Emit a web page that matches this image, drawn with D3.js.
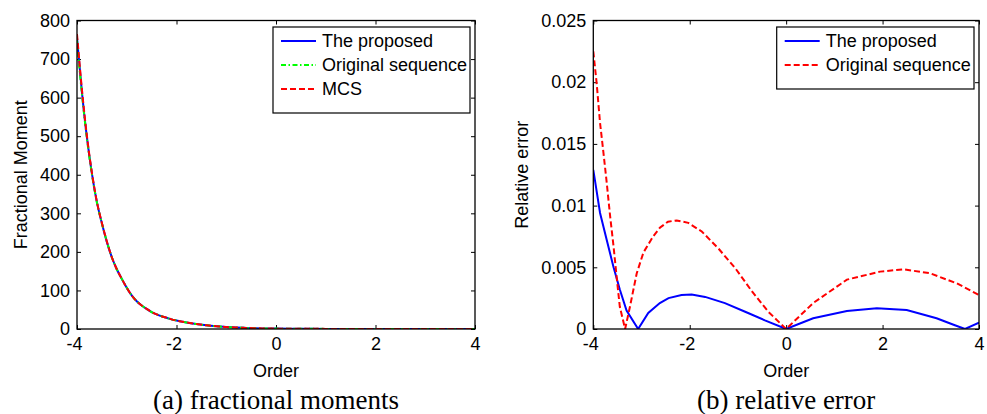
<!DOCTYPE html>
<html>
<head>
<meta charset="utf-8">
<script src="https://cdn.jsdelivr.net/npm/d3@7"></script>
<style>
  body { margin: 0; background: #fff; }
  svg { display: block; }
  .tick text { font-family: "Liberation Sans", Arial, sans-serif; font-size: 18px; fill: #000; }
  .axis-title { font-family: "Liberation Sans", Arial, sans-serif; font-size: 18px; fill: #000; }
  .caption { font-family: "Liberation Serif", "Times New Roman", serif; font-size: 27px; fill: #000; }
  .legend text { font-family: "Liberation Sans", Arial, sans-serif; font-size: 18px; fill: #000; }
</style>
</head>
<body>
<div id="chart"></div>
<script>
const width = 987, height = 414;

// (a) fractional moments
const momentOrder = [-4.0, -3.9, -3.8, -3.7, -3.6, -3.5, -3.4, -3.3, -3.2, -3.1, -3.0, -2.9, -2.8, -2.7, -2.6, -2.5,
  -2.4, -2.3, -2.2, -2.1, -2.0, -1.8, -1.6, -1.4, -1.2, -1.0, -0.8, -0.6, -0.4, -0.2, 0.0, 0.5, 1.0, 1.5, 2.0, 2.5, 3.0, 3.5, 4.0];
const momentMCS = [765, 620, 500, 405, 330, 275, 227, 186, 155, 130, 107, 87, 72, 61, 52, 44,
  38, 33, 29, 25, 22, 17, 13, 9.5, 7, 5.2, 3.8, 2.8, 2.0, 1.4, 1.0, 0.52, 0.30, 0.19, 0.13, 0.095, 0.07, 0.057, 0.047];
const momentProposed = [755, 613, 496, 403, 329, 274, 226, 186, 155, 130, 107, 87, 72, 61, 52, 44,
  38, 33, 29, 25, 22, 17, 13, 9.5, 7, 5.2, 3.8, 2.8, 2.0, 1.4, 1.0, 0.52, 0.30, 0.19, 0.13, 0.095, 0.07, 0.057, 0.047];
const momentOriginal = [748, 608, 493, 401, 328, 274, 227, 186, 155, 130, 107, 87, 72, 61, 52, 44,
  38, 33, 29, 25, 22, 17, 13, 9.5, 7, 5.2, 3.8, 2.8, 2.0, 1.4, 1.0, 0.52, 0.30, 0.19, 0.13, 0.095, 0.07, 0.057, 0.047];

// (b) relative error
const errProposedOrder = [-4.00, -3.86, -3.72, -3.58, -3.45, -3.31, -3.07, -2.86, -2.62, -2.44, -2.17, -1.96, -1.68,
  -1.27, -0.85, -0.44, 0.00, 0.56, 1.26, 1.88, 2.50, 3.12, 3.50, 3.71, 4.00];
const errProposed = [0.0129, 0.0094, 0.0072, 0.0050, 0.0032, 0.0015, 0, 0.0013, 0.0021, 0.0025, 0.00276, 0.0028, 0.0026,
  0.0021, 0.0014, 0.0007, 0, 0.00087, 0.00146, 0.00168, 0.00154, 0.00087, 0.0003, 0, 0.00052];
const errOriginalOrder = [-4.00, -3.93, -3.86, -3.79, -3.72, -3.65, -3.58, -3.51, -3.45, -3.34, -3.24, -3.10, -2.96,
  -2.76, -2.62, -2.45, -2.27, -2.03, -1.75, -1.40, -1.05, -0.70, -0.37, 0.00, 0.56, 1.26, 1.95, 2.43, 2.98, 3.54, 4.00];
const errOriginal = [0.0225, 0.0199, 0.0167, 0.0143, 0.0118, 0.0091, 0.0067, 0.0040, 0.0018, 0, 0.0018, 0.0045, 0.0062,
  0.0075, 0.0082, 0.0087, 0.0088, 0.0086, 0.0079, 0.0065, 0.0049, 0.0030, 0.0014, 0, 0.0021, 0.0040, 0.00465, 0.00484, 0.00452, 0.0037, 0.00276];

const xTicks = [-4, -2, 0, 2, 4];
const momentTicks = [0, 100, 200, 300, 400, 500, 600, 700, 800];
const errTicks = [0, 0.005, 0.01, 0.015, 0.02, 0.025];

const svg = d3.select("#chart")
  .append("svg")
    .attr("width", width)
    .attr("height", height);

// one MATLAB style panel
function panel(opts) {
  const x = d3.scaleLinear().domain([-4, 4]).range([opts.left, opts.right]);
  const y = d3.scaleLinear().domain(opts.yDomain).range([opts.bottom, opts.top]);
  const g = svg.append("g");
  const id = "clip" + opts.name;

  g.append("clipPath").attr("id", id)
    .append("rect")
      .attr("x", opts.left).attr("y", opts.top)
      .attr("width", opts.right - opts.left).attr("height", opts.bottom - opts.top);

  // ticks (inward, all four sides)
  g.append("g")
    .attr("transform", `translate(0,${opts.bottom})`)
    .call(d3.axisBottom(x).tickValues(xTicks).tickSize(-4).tickSizeOuter(0).tickPadding(8)
      .tickFormat(d => String(d)))
    .call(a => a.selectAll(".tick text").attr("dx", d => d < 0 ? -3 : 0));
  g.append("g")
    .attr("transform", `translate(0,${opts.top})`)
    .call(d3.axisTop(x).tickValues(xTicks).tickSize(-4).tickSizeOuter(0).tickFormat(""));
  g.append("g")
    .attr("transform", `translate(${opts.left},0)`)
    .call(d3.axisLeft(y).tickValues(opts.yTicks).tickSize(-4).tickSizeOuter(0).tickPadding(7)
      .tickFormat(opts.yFormat));
  g.append("g")
    .attr("transform", `translate(${opts.right},0)`)
    .call(d3.axisRight(y).tickValues(opts.yTicks).tickSize(-4).tickSizeOuter(0).tickFormat(""));
  g.selectAll(".domain").remove();
  g.selectAll(".tick line").attr("stroke", "#000");

  // curves
  const line = d3.line().x(d => x(d[0])).y(d => y(d[1])).curve(opts.curve);
  opts.series.forEach(s => {
    g.append("path")
      .datum(s.order.map((o, i) => [o, s.values[i]]))
      .attr("clip-path", `url(#${id})`)
      .attr("fill", "none")
      .attr("stroke", s.color)
      .attr("stroke-width", 2)
      .attr("stroke-dasharray", s.dash)
      .attr("d", line);
  });

  // axes box
  g.append("rect")
    .attr("x", opts.left).attr("y", opts.top)
    .attr("width", opts.right - opts.left).attr("height", opts.bottom - opts.top)
    .attr("fill", "none").attr("stroke", "#000").attr("stroke-width", 1.3);

  // legend
  const lg = g.append("g").attr("class", "legend")
    .attr("transform", `translate(${opts.legend.x},${opts.legend.y})`);
  lg.append("rect")
    .attr("width", opts.legend.w).attr("height", 14 + opts.series.length * 24)
    .attr("fill", "#fff").attr("stroke", "#000").attr("stroke-width", 1.2);
  const items = lg.selectAll(".item")
    .data(opts.series.filter(s => s.label))
    .join("g")
      .attr("transform", (d, i) => `translate(0,${14 + i * 24})`);
  items.append("line")
    .attr("x1", 8).attr("x2", 43)
    .attr("stroke", d => d.color).attr("stroke-width", 1.8)
    .attr("stroke-dasharray", d => d.dash);
  items.append("text")
    .attr("x", 49).attr("y", 6)
    .text(d => d.label);

  // labels
  g.append("text").attr("class", "axis-title")
    .attr("text-anchor", "middle")
    .attr("x", (opts.left + opts.right) / 2).attr("y", 376.5)
    .text("Order");
  g.append("text").attr("class", "axis-title")
    .attr("text-anchor", "middle")
    .attr("transform", `translate(${opts.yTitleX},${(opts.top + opts.bottom) / 2}) rotate(-90)`)
    .text(opts.yTitle);
  g.append("text").attr("class", "caption")
    .attr("text-anchor", "middle")
    .attr("x", (opts.left + opts.right) / 2).attr("y", 409)
    .text(opts.caption);
}

panel({
  name: "a",
  left: 77, right: 475, top: 20.5, bottom: 329,
  yDomain: [0, 800], yTicks: momentTicks, yFormat: d => String(d),
  curve: d3.curveMonotoneX,
  series: [
    {label: "The proposed", order: momentOrder, values: momentProposed, color: "#0000ff", dash: null},
    {label: "Original sequence", order: momentOrder, values: momentOriginal, color: "#00ff00", dash: "5,2.5,1.5,2.5"},
    {label: "MCS", order: momentOrder, values: momentMCS, color: "#ff0000", dash: "6,3"}
  ],
  legend: {x: 273, y: 27, w: 197},
  yTitle: "Fractional Moment", yTitleX: 26.5,
  caption: "(a) fractional moments"
});

panel({
  name: "b",
  left: 593.3, right: 979, top: 20.5, bottom: 329,
  yDomain: [0, 0.025], yTicks: errTicks, yFormat: d => d === 0 ? "0" : String(+d.toFixed(3)),
  curve: d3.curveLinear,
  series: [
    {label: "The proposed", order: errProposedOrder, values: errProposed, color: "#0000ff", dash: null},
    {label: "Original sequence", order: errOriginalOrder, values: errOriginal, color: "#ff0000", dash: "6,3"}
  ],
  legend: {x: 776.7, y: 27, w: 197.3},
  yTitle: "Relative error", yTitleX: 528,
  caption: "(b) relative error"
});
</script>
</body>
</html>
